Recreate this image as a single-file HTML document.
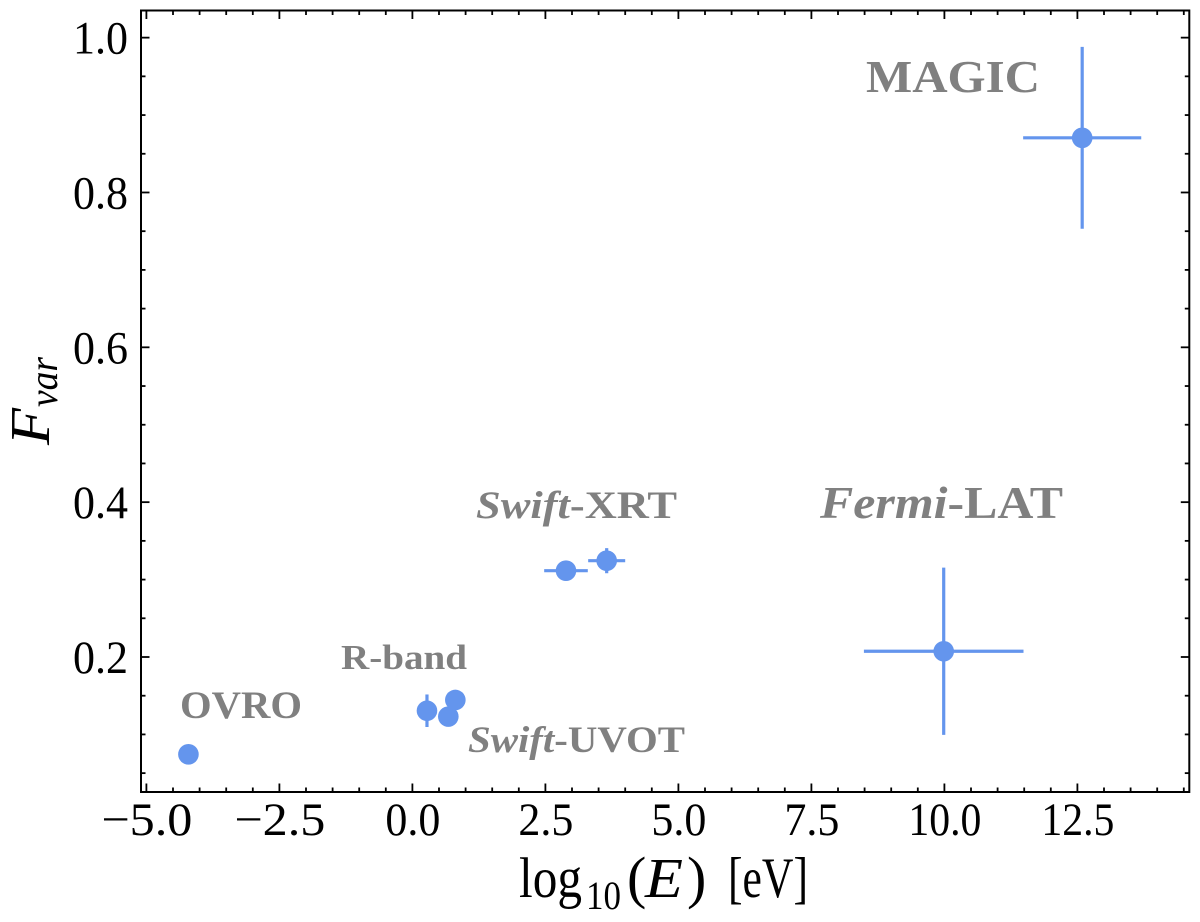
<!DOCTYPE html>
<html lang="en">
<head>
<meta charset="utf-8">
<title>Fractional variability vs energy</title>
<style>
  html, body { margin: 0; padding: 0; background: #fff; }
  svg { display: block; }
  text { font-family: "Liberation Serif", "DejaVu Serif", serif; }
</style>
</head>
<body>
<svg id="chart" xmlns="http://www.w3.org/2000/svg" width="1200" height="922" viewBox="0 0 1200 922">
  <rect x="0" y="0" width="1200" height="922" fill="#ffffff"/>
  <g id="ticks"></g>
  <g id="tick-labels"></g>
  <g id="marks"></g>
  <rect x="141" y="10.5" width="1048.3" height="781.5" fill="none" stroke="#000" stroke-width="2"/>

  <g fill="#000">
    <text x="519" y="897" font-size="57" textLength="63" lengthAdjust="spacingAndGlyphs">log</text>
    <text x="586" y="909" font-size="40" textLength="35" lengthAdjust="spacingAndGlyphs">10</text>
    <text x="627" y="897" font-size="58">(</text>
    <text x="645" y="897" font-size="56" font-style="italic" textLength="38" lengthAdjust="spacingAndGlyphs">E</text>
    <text x="687" y="897" font-size="58">)</text>
    <text x="728" y="897" font-size="57" textLength="80" lengthAdjust="spacingAndGlyphs">[eV]</text>
  </g>
  <g fill="#000">
    <text transform="translate(49,445) rotate(-90)" font-size="56" font-style="italic" textLength="37" lengthAdjust="spacingAndGlyphs">F</text>
    <text transform="translate(57,407) rotate(-90)" font-size="40" font-style="italic" textLength="50" lengthAdjust="spacingAndGlyphs">var</text>
  </g>

  <g fill="#808080" font-weight="bold">
    <text x="180" y="718" font-size="39" textLength="122" lengthAdjust="spacingAndGlyphs">OVRO</text>
    <text x="341" y="669" font-size="35" textLength="126" lengthAdjust="spacingAndGlyphs">R-band</text>
    <text x="468" y="752" font-size="37" textLength="217" lengthAdjust="spacingAndGlyphs"><tspan font-style="italic">Swift</tspan>-UVOT</text>
    <text x="476" y="518" font-size="39" textLength="201" lengthAdjust="spacingAndGlyphs"><tspan font-style="italic">Swift</tspan>-XRT</text>
    <text x="820" y="518" font-size="45" textLength="243" lengthAdjust="spacingAndGlyphs"><tspan font-style="italic">Fermi</tspan>-LAT</text>
    <text x="866" y="92" font-size="46" textLength="174" lengthAdjust="spacingAndGlyphs">MAGIC</text>
  </g>
</svg>
<script>
// Chart data
const bands = ['ovro', 'r-band', 'uvot-a', 'uvot-b', 'xrt-soft', 'xrt-hard', 'fermi-lat', 'magic'];
const logEnergy = [-4.21, 0.274, 0.675, 0.807, 2.887, 3.652, 9.987, 12.59];
const fvar = [0.0743, 0.1306, 0.123, 0.1445, 0.3115, 0.3244, 0.2074, 0.8706];
const logEnergyErr = [0, 0, 0, 0, 0.41, 0.348, 1.5, 1.11];
const fvarErr = [0.002, 0.021, 0.004, 0.004, 0.005, 0.0162, 0.108, 0.1175];
const xTickValues = [-5, -2.5, 0, 2.5, 5, 7.5, 10, 12.5];
const xTickLabels = ['\u22125.0', '\u22122.5', '0.0', '2.5', '5.0', '7.5', '10.0', '12.5'];
const yTickValues = [0.2, 0.4, 0.6, 0.8, 1.0];
const yTickLabels = ['0.2', '0.4', '0.6', '0.8', '1.0'];

// Axis functions
const plot = { left: 141, right: 1189.3, top: 10.5, bottom: 792 };
const xScale = v => 412.4 + 53.2 * v;
const yScale = v => 657 - (v - 0.2) * 774.2;

const NS = 'http://www.w3.org/2000/svg';
const ticksG = document.getElementById('ticks');
const labelsG = document.getElementById('tick-labels');
const marksG = document.getElementById('marks');

function line(parent, name, x1, y1, x2, y2, stroke, width) {
  const el = document.createElementNS(NS, 'line');
  
  
  el.setAttribute('x1', x1);
  el.setAttribute('y1', y1);
  el.setAttribute('x2', x2);
  el.setAttribute('y2', y2);
  el.setAttribute('stroke', stroke);
  el.setAttribute('stroke-width', width);
  parent.appendChild(el);
  return el;
}

// Reference tick text is set wider than Liberation Serif; stretch to match.
function labelWidth(str) {
  if (str.charAt(0) === '\u2212') return 91;
  return str.length === 4 ? 73 : 55;
}

function label(name, x, y, anchor, str) {
  const el = document.createElementNS(NS, 'text');
  const w = labelWidth(str);
  
  
  el.setAttribute('x', anchor === 'end' ? x - w : x - w / 2);
  el.setAttribute('y', y);
  el.setAttribute('font-size', '47');
  el.setAttribute('fill', '#000');
  el.setAttribute('textLength', w);
  el.setAttribute('lengthAdjust', 'spacingAndGlyphs');
  el.textContent = str;
  labelsG.appendChild(el);
}

const MAJOR = 8.5, MINOR = 4.5, TW = 1.8;

// Minor ticks: five per major x interval, four per major y interval
const xStep = (xTickValues[1] - xTickValues[0]) / 5;
for (let i = 0; ; i++) {
  const v = xTickValues[0] + i * xStep;
  const px = xScale(v);
  if (px > plot.right) break;
  if (i % 5 === 0) continue;
  line(ticksG, 'x-minor-tick-bottom', px, plot.bottom, px, plot.bottom - MINOR, '#000', TW);
  line(ticksG, 'x-minor-tick-top', px, plot.top, px, plot.top + MINOR, '#000', TW);
}
const yStep = (yTickValues[1] - yTickValues[0]) / 4;
for (let i = -4; ; i++) {
  const v = yTickValues[0] + i * yStep;
  const py = yScale(v);
  if (py > plot.bottom) continue;
  if (py < plot.top) break;
  if (((i % 4) + 4) % 4 === 0) continue;
  line(ticksG, 'y-minor-tick-left', plot.left, py, plot.left + MINOR, py, '#000', TW);
  line(ticksG, 'y-minor-tick-right', plot.right, py, plot.right - MINOR, py, '#000', TW);
}

// Major ticks and labels
xTickValues.forEach((v, i) => {
  const px = xScale(v);
  line(ticksG, 'x-major-tick-bottom', px, plot.bottom, px, plot.bottom - MAJOR, '#000', TW);
  line(ticksG, 'x-major-tick-top', px, plot.top, px, plot.top + MAJOR, '#000', TW);
  label('x-tick-label', px + 0.5, 835, 'middle', xTickLabels[i]);
});
yTickValues.forEach((v, i) => {
  const py = yScale(v);
  line(ticksG, 'y-major-tick-left', plot.left, py, plot.left + MAJOR, py, '#000', TW);
  line(ticksG, 'y-major-tick-right', plot.right, py, plot.right - MAJOR, py, '#000', TW);
  label('y-tick-label', 128, py + 16, 'end', yTickLabels[i]);
});

// Points with error bars
const COLOR = '#6495ed';
bands.forEach((band, i) => {
  const px = xScale(logEnergy[i]);
  const py = yScale(fvar[i]);
  if (logEnergyErr[i] > 0) {
    line(marksG, 'x-error-bar-' + band, xScale(logEnergy[i] - logEnergyErr[i]), py, xScale(logEnergy[i] + logEnergyErr[i]), py, COLOR, 3.2);
  }
  if (fvarErr[i] > 0) {
    line(marksG, 'y-error-bar-' + band, px, yScale(fvar[i] - fvarErr[i]), px, yScale(fvar[i] + fvarErr[i]), COLOR, 3.2);
  }
  const c = document.createElementNS(NS, 'circle');
  
  
  c.setAttribute('cx', px);
  c.setAttribute('cy', py);
  c.setAttribute('r', 10.3);
  c.setAttribute('fill', COLOR);
  marksG.appendChild(c);
});
</script>
</body>
</html>
